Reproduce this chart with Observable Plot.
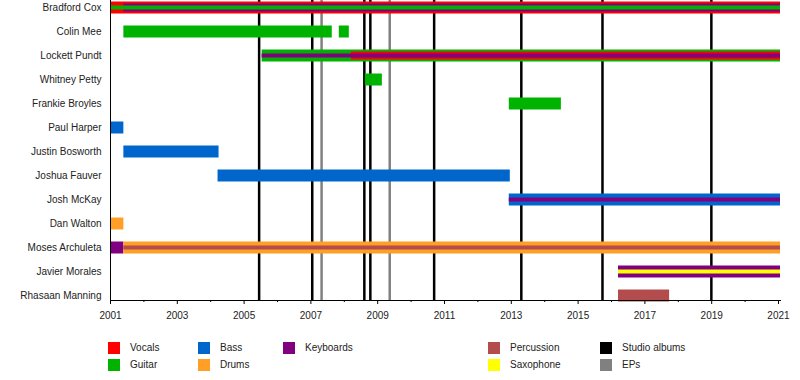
<!DOCTYPE html>
<html><head><meta charset="utf-8">
<script src="https://cdn.jsdelivr.net/npm/d3@7"></script>
<script src="https://cdn.jsdelivr.net/npm/@observablehq/plot@0.6"></script>
<style>
body{margin:0;background:#fff;font-family:"Liberation Sans",Arial,sans-serif;}
#wrap{position:relative;width:800px;height:380px;overflow:hidden;}
#legend{position:absolute;left:0;top:330px;width:800px;height:50px;font-size:10px;color:#222;}
.sw{position:absolute;width:12px;height:12px;}
.lb{position:absolute;line-height:12px;white-space:nowrap;}
</style></head><body><div id="wrap"><div id="chart"></div><div id="legend"></div></div>
<script>
// ---- data ----
const members = ["Bradford Cox","Colin Mee","Lockett Pundt","Whitney Petty","Frankie Broyles","Paul Harper","Justin Bosworth","Joshua Fauver","Josh McKay","Dan Walton","Moses Archuleta","Javier Morales","Rhasaan Manning"];
const roles = ["Vocals","Guitar","Bass","Drums","Keyboards","Percussion","Saxophone"];
const roleColors = ["#ff0000","#00b300","#0066cc","#ff9f26","#800080","#b34d4d","#ffff00"];
const START = 2001, END = 2021.06;
// [member, role, start, end]
const mainPeriods = [
  ["Bradford Cox","Vocals",2001,END],
  ["Colin Mee","Guitar",2001.4,2007.64],
  ["Colin Mee","Guitar",2007.85,2008.15],
  ["Lockett Pundt","Guitar",2005.54,END],
  ["Whitney Petty","Guitar",2008.63,2009.14],
  ["Frankie Broyles","Guitar",2012.94,2014.5],
  ["Paul Harper","Bass",2001,2001.4],
  ["Justin Bosworth","Bass",2001.4,2004.25],
  ["Joshua Fauver","Bass",2004.22,2012.97],
  ["Josh McKay","Bass",2012.94,END],
  ["Dan Walton","Drums",2001,2001.4],
  ["Moses Archuleta","Keyboards",2001,2001.4],
  ["Moses Archuleta","Drums",2001.4,END],
  ["Javier Morales","Keyboards",2016.21,END],
  ["Rhasaan Manning","Percussion",2016.21,2017.74]
];
const secondPeriods = [
  ["Bradford Cox","Keyboards",2001.4,END],
  ["Lockett Pundt","Vocals",2008.21,END]
];
const thirdPeriods = [
  ["Bradford Cox","Guitar",2001,END],
  ["Lockett Pundt","Keyboards",2005.54,END],
  ["Josh McKay","Keyboards",2012.94,END],
  ["Moses Archuleta","Percussion",2001.4,END],
  ["Javier Morales","Saxophone",2016.21,END]
];
const studioAlbums = [2005.45, 2007.04, 2008.6, 2008.78, 2010.69, 2013.3, 2015.73, 2018.99];
const eps = [2007.32, 2009.36];
const majorTicks = [2001,2003,2005,2007,2009,2011,2013,2015,2017,2019,2021];
const minorTicks = [2002,2004,2006,2008,2010,2012,2014,2016,2018,2020];
const legendLabels = ["Vocals","Guitar","Bass","Drums","Keyboards","Percussion","Saxophone","Studio albums","EPs"];
const legendColors = [...roleColors, "#000000", "#808080"];

// ---- chart ----
const toObj = a => a.map(([member, role, start, end]) => ({member, role, start, end}));
const bar = (data, w) => Plot.ruleY(toObj(data), {y: "member", x1: "start", x2: "end", stroke: "role", strokeWidth: w});

const chart = Plot.plot({
  width: 800, height: 330,
  marginTop: 0, marginBottom: 30, marginLeft: 110, marginRight: 20,
  style: {fontFamily: "'Liberation Sans', Arial, sans-serif", fontSize: "10px", color: "#222", background: "#fff"},
  x: {domain: [START, END], label: null},
  y: {type: "point", domain: members, range: [7, 295], padding: 0, label: null},
  color: {domain: roles, range: roleColors},
  marks: [
    Plot.ruleX(studioAlbums, {stroke: "#000", strokeWidth: 2.5}),
    Plot.ruleX(eps, {stroke: "#808080", strokeWidth: 2.5}),
    bar(mainPeriods, 12),
    bar(secondPeriods, 8),
    bar(thirdPeriods, 4),
    Plot.ruleX([START], {stroke: "#000", strokeWidth: 1}),
    Plot.frame({anchor: "bottom", stroke: "#000"}),
    Plot.axisY({tickSize: 0, tickPadding: 9, label: null}),
    Plot.axisX({ticks: majorTicks, tickSize: 4, tickPadding: 7, tickFormat: d => String(d), label: null, stroke: "#000"}),
    Plot.axisX({ticks: minorTicks, tickSize: 2, tickFormat: () => "", label: null, stroke: "#000"})
  ]
});
document.getElementById("chart").appendChild(chart);

// ---- legend ----
const colLeft = [108, 198, 283, 488, 600];
const itemCol = [0,0,1,1,2,3,3,4,4];
const itemRow = [0,1,0,1,0,0,1,0,1];
const legend = document.getElementById("legend");
legendLabels.forEach((lab, i) => {
  const top = 12 + itemRow[i] * 17;
  const sw = document.createElement("div");
  sw.className = "sw";
  sw.style.left = colLeft[itemCol[i]] + "px";
  sw.style.top = top + "px";
  sw.style.background = legendColors[i];
  legend.appendChild(sw);
  const t = document.createElement("div");
  t.className = "lb";
  t.style.left = (colLeft[itemCol[i]] + 22) + "px";
  t.style.top = top + "px";
  t.textContent = lab;
  legend.appendChild(t);
});
</script></body></html>
